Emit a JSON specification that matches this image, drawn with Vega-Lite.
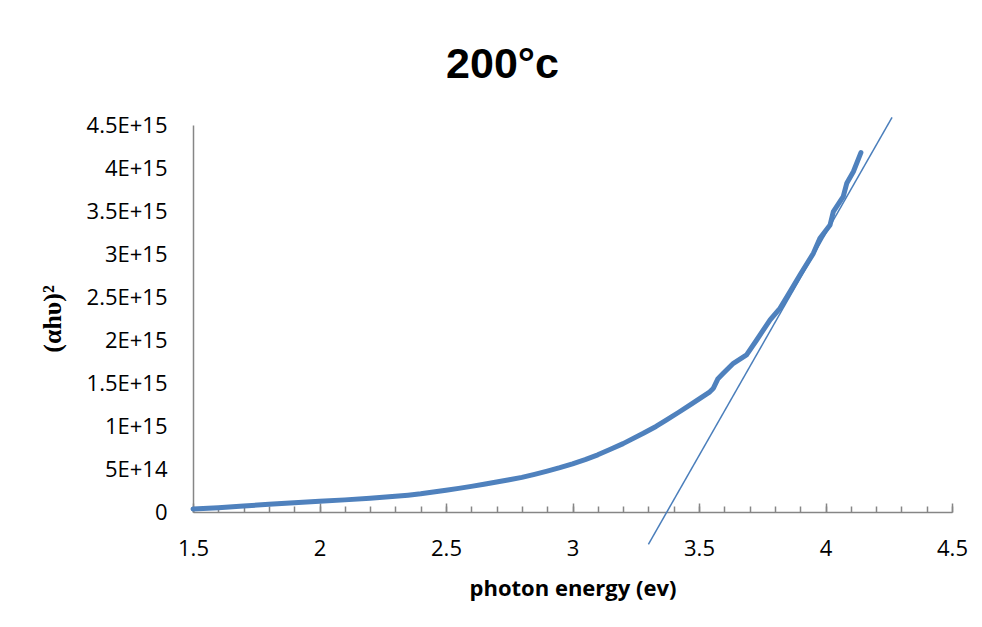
{
  "$schema": "https://vega.github.io/schema/vega-lite/v6.json",
  "width": 759,
  "height": 387,
  "autosize": {"type": "none"},
  "padding": {"left": 193, "top": 125, "right": 30, "bottom": 115},
  "background": "white",
  "config": {"view": {"stroke": null}},
  "title": {
    "text": "200°c",
    "font": "Liberation Sans Narrow, Liberation Sans",
    "fontSize": 43,
    "fontWeight": "bold",
    "color": "black",
    "anchor": "middle",
    "dx": -70,
    "offset": 27
  },
  "datasets": {
    "curve": [
      {"energy": 1.5, "ahv2": 3.5e13},
      {"energy": 1.6, "ahv2": 5.0e13},
      {"energy": 1.7, "ahv2": 7.0e13},
      {"energy": 1.8, "ahv2": 9.0e13},
      {"energy": 1.9, "ahv2": 1.08e14},
      {"energy": 2.0, "ahv2": 1.25e14},
      {"energy": 2.1, "ahv2": 1.41e14},
      {"energy": 2.2, "ahv2": 1.6e14},
      {"energy": 2.3, "ahv2": 1.82e14},
      {"energy": 2.35, "ahv2": 1.96e14},
      {"energy": 2.4, "ahv2": 2.12e14},
      {"energy": 2.45, "ahv2": 2.32e14},
      {"energy": 2.5, "ahv2": 2.52e14},
      {"energy": 2.55, "ahv2": 2.75e14},
      {"energy": 2.6, "ahv2": 2.98e14},
      {"energy": 2.65, "ahv2": 3.22e14},
      {"energy": 2.7, "ahv2": 3.48e14},
      {"energy": 2.75, "ahv2": 3.75e14},
      {"energy": 2.8, "ahv2": 4.03e14},
      {"energy": 2.85, "ahv2": 4.38e14},
      {"energy": 2.9, "ahv2": 4.75e14},
      {"energy": 2.95, "ahv2": 5.15e14},
      {"energy": 3.0, "ahv2": 5.6e14},
      {"energy": 3.05, "ahv2": 6.1e14},
      {"energy": 3.1, "ahv2": 6.65e14},
      {"energy": 3.15, "ahv2": 7.3e14},
      {"energy": 3.2, "ahv2": 7.95e14},
      {"energy": 3.28, "ahv2": 9.15e14},
      {"energy": 3.33, "ahv2": 9.95e14},
      {"energy": 3.372, "ahv2": 1.07e15},
      {"energy": 3.42, "ahv2": 1.16e15},
      {"energy": 3.465, "ahv2": 1.245e15},
      {"energy": 3.504, "ahv2": 1.322e15},
      {"energy": 3.54, "ahv2": 1.39e15},
      {"energy": 3.557, "ahv2": 1.44e15},
      {"energy": 3.575, "ahv2": 1.55e15},
      {"energy": 3.596, "ahv2": 1.613e15},
      {"energy": 3.636, "ahv2": 1.729e15},
      {"energy": 3.688, "ahv2": 1.826e15},
      {"energy": 3.728, "ahv2": 2.0e15},
      {"energy": 3.781, "ahv2": 2.233e15},
      {"energy": 3.82, "ahv2": 2.369e15},
      {"energy": 3.86, "ahv2": 2.562e15},
      {"energy": 3.899, "ahv2": 2.756e15},
      {"energy": 3.952, "ahv2": 3.008e15},
      {"energy": 3.978, "ahv2": 3.183e15},
      {"energy": 4.018, "ahv2": 3.337e15},
      {"energy": 4.031, "ahv2": 3.492e15},
      {"energy": 4.07, "ahv2": 3.666e15},
      {"energy": 4.084, "ahv2": 3.822e15},
      {"energy": 4.11, "ahv2": 3.957e15},
      {"energy": 4.14, "ahv2": 4.178e15}
    ],
    "tangent": [
      {"energy": 3.30, "ahv2": -3.76e14},
      {"energy": 4.263, "ahv2": 4.59e15}
    ]
  },
  "layer": [
    {
      "data": {"name": "curve"},
      "mark": {"type": "line", "color": "#4f81bd", "strokeWidth": 5, "strokeCap": "round", "strokeJoin": "round"},
      "encoding": {
        "x": {
          "field": "energy", "type": "quantitative",
          "scale": {"domain": [1.5, 4.5], "nice": false, "zero": false},
          "axis": {
            "orient": "bottom",
            "values": [1.5, 2, 2.5, 3, 3.5, 4, 4.5],
            "format": "~g",
            "title": "photon energy (ev)",
            "titleFont": "Open Sans",
            "titleFontSize": 22,
            "titleFontWeight": "bold",
            "titleColor": "black",
            "titlePadding": 19,
            "labelFont": "Open Sans",
            "labelFontSize": 22,
            "labelColor": "black",
            "labelPadding": 26,
            "labelFlush": false,
            "labelOverlap": false,
            "ticks": false,
            "domainColor": "#868686",
            "domainWidth": 1.5,
            "grid": false
          }
        },
        "y": {
          "field": "ahv2", "type": "quantitative",
          "scale": {"domain": [0, 4.5e15], "nice": false},
          "axis": {
            "orient": "left",
            "values": [0, 5e14, 1e15, 1.5e15, 2e15, 2.5e15, 3e15, 3.5e15, 4e15, 4.5e15],
            "labelExpr": "datum.value == 0 ? '0' : replace(format(datum.value, '.2~e'), 'e', 'E')",
            "title": "(αhυ)²",
            "titleFont": "Liberation Serif",
            "titleFontSize": 26,
            "titleFontWeight": "bold",
            "titleColor": "black",
            "titlePadding": 21,
            "labelFont": "Open Sans",
            "labelFontSize": 22,
            "labelColor": "black",
            "labelPadding": 26,
            "labelFlush": false,
            "labelOverlap": false,
            "ticks": false,
            "domainColor": "#868686",
            "domainWidth": 1.5,
            "grid": false
          }
        }
      }
    },
    {
      "data": {"name": "tangent"},
      "mark": {"type": "line", "color": "#4a7ebb", "strokeWidth": 1.5},
      "encoding": {
        "x": {"field": "energy", "type": "quantitative", "axis": null},
        "y": {"field": "ahv2", "type": "quantitative"}
      }
    },
    {
      "data": {"name": "tangent"},
      "mark": {"type": "line", "opacity": 0},
      "encoding": {
        "x": {
          "field": "energy", "type": "quantitative",
          "axis": {
            "orient": "bottom",
            "values": [1.5, 1.6, 1.7, 1.8, 1.9, 2.0, 2.1, 2.2, 2.3, 2.4, 2.5, 2.6, 2.7, 2.8, 2.9, 3.0, 3.1, 3.2, 3.3, 3.4, 3.5, 3.6, 3.7, 3.8, 3.9, 4.0, 4.1, 4.2, 4.3, 4.4, 4.5],
            "labels": false, "title": null, "domain": false, "grid": false,
            "ticks": true, "tickSize": -6, "tickColor": "#868686", "tickWidth": 1.5
          }
        },
        "y": {"field": "ahv2", "type": "quantitative"}
      }
    },
    {
      "data": {"name": "tangent"},
      "mark": {"type": "line", "opacity": 0},
      "encoding": {
        "x": {
          "field": "energy", "type": "quantitative",
          "axis": {
            "orient": "bottom",
            "values": [1.5, 2, 2.5, 3, 3.5, 4, 4.5],
            "labels": false, "title": null, "domain": false, "grid": false,
            "ticks": true, "tickSize": -9, "tickColor": "#868686", "tickWidth": 1.5
          }
        },
        "y": {"field": "ahv2", "type": "quantitative"}
      }
    }
  ],
  "resolve": {"axis": {"x": "independent"}}
}
